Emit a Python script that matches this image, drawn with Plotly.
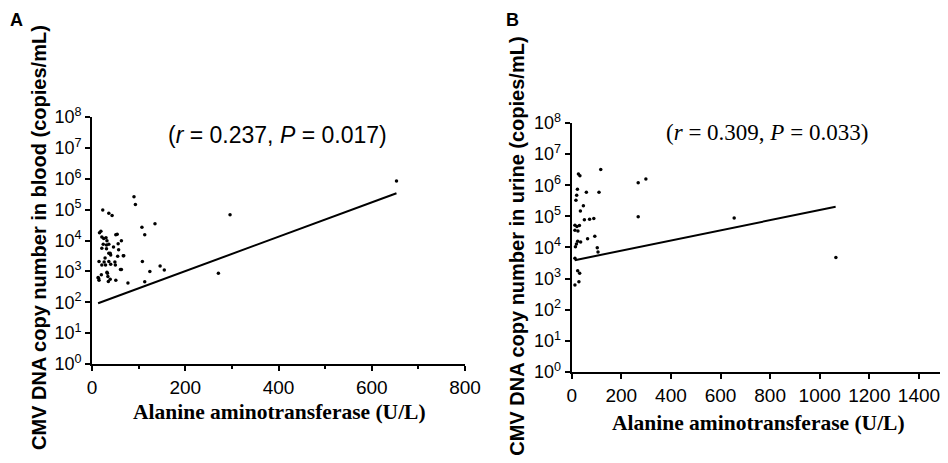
import plotly.graph_objs as go

# panel A: ALT vs CMV DNA in blood
alt_blood = [90, 93, 23, 36, 43, 107, 135, 113, 16, 51, 21, 25, 32, 63, 56,
             24, 31, 36, 46, 21, 31, 36, 40, 55, 67, 15, 26, 36, 40, 29, 21,
             49, 108, 61, 146, 155, 124, 32, 13, 15, 20, 34, 39, 35, 51, 77,
             113, 296, 271, 653, 19, 30, 54, 57, 39, 68, 50, 63, 14, 28, 33]
cmv_blood = [263000, 148000, 98000, 76000, 65000, 27000, 35000, 15500, 18000,
             15500, 13000, 11700, 9800, 9800, 7900, 7600, 7200, 7600, 6200,
             5600, 5400, 3900, 3400, 3100, 3200, 2100, 2000, 2100, 1700, 1600,
             1600, 2000, 2100, 1150, 1500, 1100, 1000, 930, 630, 520, 780, 680,
             560, 470, 520, 420, 460, 68000, 870, 850000, 20000, 12300, 16000,
             5000, 3900, 3200, 1600, 1150, 600, 2700, 870]
fit_x_blood = [13, 653]
fit_y_blood = [93, 339000]

# panel B: ALT vs CMV DNA in urine
alt_urine = [27, 33, 117, 268, 299, 23, 20, 59, 110, 17, 47, 35, 268, 51, 72,
             89, 13, 31, 21, 13, 25, 64, 93, 24, 36, 19, 15, 103, 106, 13, 24,
             32, 29, 13, 655, 1065]
cmv_urine = [2300000, 2000000, 3200000, 1200000, 1600000, 740000, 480000,
             590000, 590000, 330000, 220000, 150000, 98000, 78000, 81000, 85000,
             52000, 51000, 47000, 36000, 34000, 19000, 23000, 16000, 15000,
             13000, 10500, 9800, 7200, 4500, 1800, 1500, 800, 620, 89000, 4800]
fit_x_urine = [12, 1064]
fit_y_urine = [3900, 204000]

log_ticks = [10 ** i for i in range(9)]
log_labels = ['10<sup>%d</sup>' % i for i in range(9)]

sans = 'Liberation Sans'
serif = 'Liberation Serif'

fig = go.Figure()
fig.add_trace(go.Scatter(x=alt_blood, y=cmv_blood, mode='markers',
                         marker=dict(color='black', size=3.5), xaxis='x', yaxis='y'))
fig.add_trace(go.Scatter(x=fit_x_blood, y=fit_y_blood, mode='lines',
                         line=dict(color='black', width=2), xaxis='x', yaxis='y'))
fig.add_trace(go.Scatter(x=alt_urine, y=cmv_urine, mode='markers',
                         marker=dict(color='black', size=3.5), xaxis='x2', yaxis='y2'))
fig.add_trace(go.Scatter(x=fit_x_urine, y=fit_y_urine, mode='lines',
                         line=dict(color='black', width=2), xaxis='x2', yaxis='y2'))

axis_style = dict(showline=True, linewidth=2, linecolor='black', ticks='outside',
                  ticklen=5, tickwidth=2, tickcolor='black', showgrid=False,
                  zeroline=False, automargin=False)
x_font = dict(family=sans, size=19, color='black')
y_font = dict(family=sans, size=18, color='black')

# the page body adds 8px around the plot, so the figure is 8px smaller each way
fig.update_layout(
    width=940,
    height=455,
    margin=dict(l=0, r=0, t=0, b=0, pad=0, autoexpand=False),
    paper_bgcolor='white',
    plot_bgcolor='white',
    showlegend=False,
    xaxis=dict(domain=[0.0894, 0.4862], range=[0, 800], dtick=200, anchor='y',
               minor=dict(dtick=100, ticklen=3, tickcolor='black', ticks='outside'),
               tickfont=x_font, **axis_style),
    yaxis=dict(domain=[0.2176, 0.7604], type='log', range=[0, 8], anchor='x',
               tickvals=log_ticks, ticktext=log_labels, tickfont=y_font, **axis_style),
    xaxis2=dict(domain=[0.5997, 0.9955], range=[0, 1500], tickvals=list(range(0, 1401, 200)),
                anchor='y2', tickfont=x_font, **axis_style),
    yaxis2=dict(domain=[0.2, 0.7473], type='log', range=[0, 8], anchor='x2',
                tickvals=log_ticks, ticktext=log_labels, tickfont=y_font, **axis_style),
)

notes = [
    dict(text='<b>A</b>', x=0.0, y=1.0, xanchor='left', yanchor='top',
         font=dict(family=sans, size=18)),
    dict(text='<b>B</b>', x=0.5372, y=1.0, yanchor='top',
         font=dict(family=sans, size=18)),
    dict(text='<b>CMV DNA copy number in blood (copies/mL)</b>', x=0.033, y=0.4945,
         textangle=-90, font=dict(family=sans, size=20)),
    dict(text='<b>CMV DNA copy number in urine (copies/mL)</b>', x=0.5412, y=0.4769,
         textangle=-90, font=dict(family=sans, size=20)),
    dict(text='<b>Alanine aminotransferase (U/L)</b>', x=0.2883, y=0.1121,
         font=dict(family=serif, size=21.5)),
    dict(text='<b>Alanine aminotransferase (U/L)</b>', x=0.7979, y=0.0879,
         font=dict(family=serif, size=21.5)),
    dict(text='(<i>r</i> = 0.237, <i>P</i> = 0.017)', x=0.2862, y=0.7209,
         font=dict(family=sans, size=23)),
    dict(text='(<i>r</i> = 0.309, <i>P</i> = 0.033)', x=0.8071, y=0.7253,
         font=dict(family=serif, size=23)),
]
for n in notes:
    n['font']['color'] = 'black'
    n.setdefault('xanchor', 'center')
    n.setdefault('yanchor', 'middle')
    fig.add_annotation(xref='paper', yref='paper', showarrow=False, **n)

fig.write_html('out.html')
